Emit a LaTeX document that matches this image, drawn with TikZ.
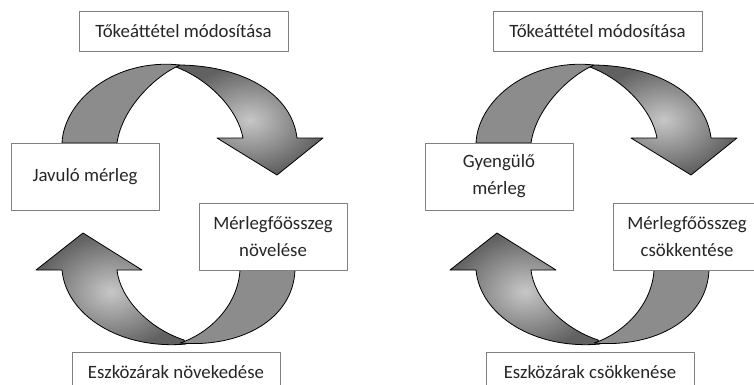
\documentclass[tikz,border=0pt]{standalone}
\usepackage{fontspec}
\setmainfont{Carlito}
\begin{document}
\begin{tikzpicture}[x=1pt, y=-1pt, line join=round]
			\tikzset{box/.style={draw=black!50, fill=white, line width=.7pt, align=center, inner sep=0pt,
					font=\fontsize{18.8}{27}\selectfont, text=black!85},
				flat/.style={draw=black, line width=.8pt, fill=black!45},
				glow/.style={draw=black, line width=.8pt, inner color=black!22, outer color=black!62}}
			\useasboundingbox (0,0) rectangle (754,384);
			\foreach \dx/\i/\ta/\tb/\tc/\td in {0/a/Tőkeáttétel módosítása/Javuló mérleg/Mérlegfőösszeg\\növelése/Eszközárak növekedése,
				414/b/Tőkeáttétel módosítása/Gyengülő\\mérleg/Mérlegfőösszeg\\csökkentése/Eszközárak csökkenése}{
				\begin{scope}[shift={(\dx,0)}]
					% upper ribbon
					\draw[glow] (180,65) .. controls (245,66) and (292,95) .. (297,138) -- (323,138) -- (277,175)
					-- (217,138) -- (243,138) .. controls (238,110) and (210,80) .. (176,67) -- cycle;
					\draw[flat] (62,143) .. controls (64,100) and (115,58) .. (180,65)
					.. controls (155,76) and (122,108) .. (117,143) -- cycle;
					% lower ribbon
					\draw[glow] (186,344) .. controls (120,350) and (66,315) .. (62,270) -- (36,270) -- (83,233)
					-- (142,270) -- (117,270) .. controls (120,298) and (148,328) .. (184,340) -- cycle;
					\draw[flat] (295,270) .. controls (293,320) and (240,348) .. (180,343)
					.. controls (210,333) and (238,305) .. (240,270) -- cycle;
					% boxes
					\node[box, minimum width=209, minimum height=40] (top\i) at (183.5,31.5) {\ta};
					\node[box, minimum width=148, minimum height=67] (left\i) at (85,176.5) {\tb};
					\node[box, minimum width=148, minimum height=67] (right\i) at (273,236.5) {\tc};
					\node[box, minimum width=208, minimum height=40] (bottom\i) at (176,372) {\td};
				\end{scope}
			}
		\end{tikzpicture}
\end{document}
